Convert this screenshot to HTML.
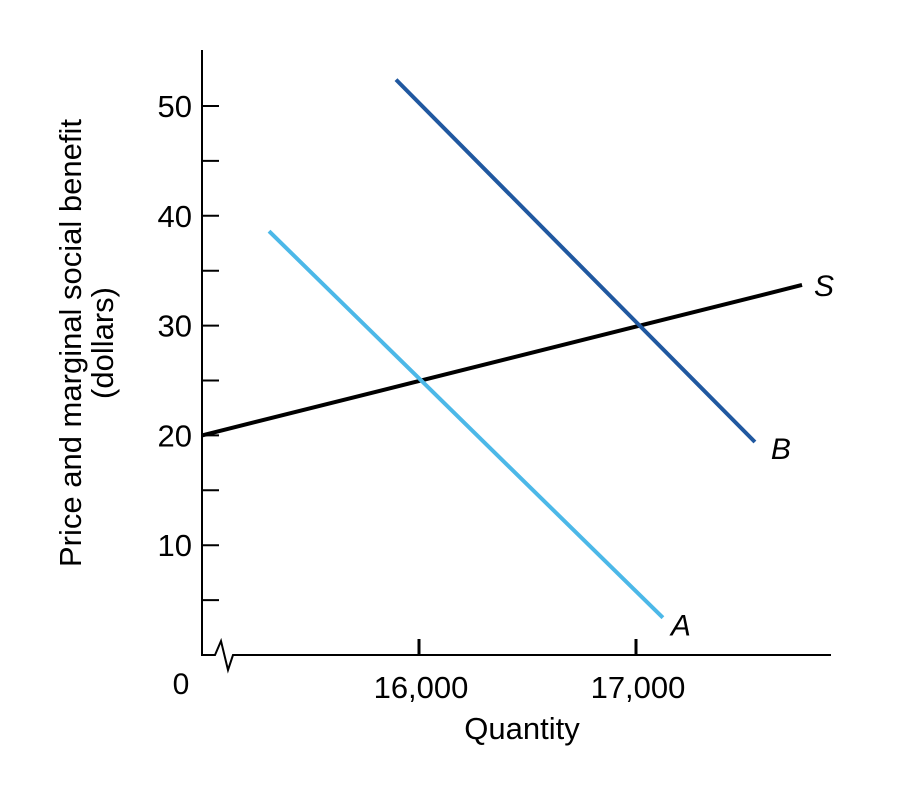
<!DOCTYPE html>
<html><head><meta charset="utf-8"><style>
body{margin:0;background:#fff}
svg{display:block;font-family:"Liberation Sans",Arial,sans-serif}
</style></head><body>
<svg width="901" height="796" viewBox="0 0 901 796">
<g id="axes"></g>
<g id="marks"></g>
<text x="181" y="694" font-size="30" text-anchor="middle">0</text>
<text x="522" y="739" font-size="31" text-anchor="middle">Quantity</text>
<text transform="translate(81,343) rotate(-90)" font-size="31" text-anchor="middle">Price and marginal social benefit</text>
<text transform="translate(113,343) rotate(-90)" font-size="31" text-anchor="middle">(dollars)</text>
<script>
const yTicks=[10,20,30,40,50];
const yMinor=[5,15,25,35,45];
const xTicks=[16000,17000];
const xTickLabels=["16,000","17,000"];
const seriesNames=["S","A","B"];
const seriesColors=["#000000","#4cb8e8","#2058a0"];
const sQ=[15000,17765]; const sP=[20,33.7];
const aQ=[15309,17124]; const aP=[38.6,3.4];
const bQ=[15894,17548]; const bP=[52.4,19.4];
const NS="http://www.w3.org/2000/svg";
const X=q=>202+(q-15000)*0.217;
const Y=p=>655-p*10.98;
function mk(parent,tag,attrs){const e=document.createElementNS(NS,tag);for(const k in attrs)e.setAttribute(k,attrs[k]);parent.appendChild(e);return e;}
const ax=document.getElementById('axes');
let e=mk(ax,'path',{d:"M202,50 V655 H215 L221,641 L228,670 L233,655 H831",fill:"none",stroke:"#000","stroke-width":2});


yTicks.concat(yMinor).forEach(v=>{
 const t=mk(ax,'line',{x1:202,x2:219,y1:Y(v),y2:Y(v),stroke:"#000","stroke-width":2});
 
 
});
yTicks.forEach(v=>{
 const t=mk(ax,'text',{x:192,y:Y(v)+11,"font-size":31,"text-anchor":"end"});t.textContent=v;
 
 
});
xTicks.forEach((v,i)=>{
 const t=mk(ax,'line',{x1:X(v),x2:X(v),y1:639,y2:655,stroke:"#000","stroke-width":3});
 
 
 const l=mk(ax,'text',{x:X(v)+2,y:698,"font-size":31,"text-anchor":"middle"});l.textContent=xTickLabels[i];
 
 
});
const mg=document.getElementById('marks');
const data=[[sQ,sP],[aQ,aP],[bQ,bP]];
const labOff=[[22,0],[18,7],[26,6]];
data.forEach((d,i)=>{
 const l=mk(mg,'line',{x1:X(d[0][0]),y1:Y(d[1][0]),x2:X(d[0][1]),y2:Y(d[1][1]),stroke:seriesColors[i],"stroke-width":4});
 
 
 const t=mk(mg,'text',{x:X(d[0][1])+labOff[i][0],y:Y(d[1][1])+labOff[i][1]+11,"font-size":30,"font-style":"italic","text-anchor":"middle"});
 t.textContent=seriesNames[i];
 
 
});
</script>
</svg>
</body></html>
